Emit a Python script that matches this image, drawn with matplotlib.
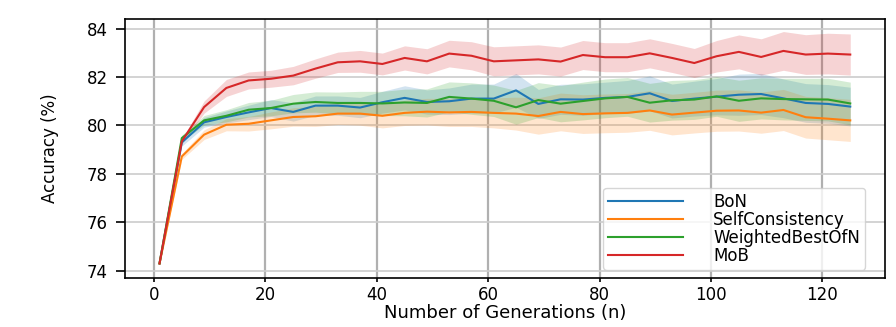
import matplotlib
matplotlib.use("Agg")
import matplotlib.pyplot as plt
import numpy as np

# number of generations (x axis)
n_gen = list(range(1, 126, 4))

bon = [74.3, 79.3, 80.13, 80.35, 80.54, 80.72, 80.56, 80.82, 80.82, 80.74, 80.96, 81.14,
       80.97, 81.0, 81.11, 81.11, 81.45, 80.89, 81.08, 81.07, 81.14, 81.18, 81.33, 81.01,
       81.11, 81.19, 81.27, 81.30, 81.12, 80.93, 80.89, 80.78]
bon_err = [0.02, 0.15, 0.2, 0.25, 0.3, 0.35, 0.38, 0.4, 0.4, 0.42, 0.45, 0.5,
           0.5, 0.55, 0.6, 0.6, 0.7, 0.6, 0.62, 0.65, 0.65, 0.68, 0.72, 0.7,
           0.72, 0.75, 0.85, 0.85, 0.8, 0.8, 0.8, 0.8]

self_cons = [74.3, 78.72, 79.62, 80.03, 80.07, 80.21, 80.35, 80.38, 80.49, 80.49, 80.40, 80.52,
             80.57, 80.54, 80.56, 80.52, 80.49, 80.39, 80.56, 80.47, 80.50, 80.52, 80.62, 80.45,
             80.53, 80.61, 80.62, 80.53, 80.64, 80.34, 80.28, 80.21]
self_cons_err = [0.02, 0.12, 0.2, 0.25, 0.3, 0.35, 0.38, 0.42, 0.45, 0.48, 0.5, 0.52,
                 0.55, 0.58, 0.6, 0.62, 0.68, 0.75, 0.78, 0.8, 0.8, 0.8, 0.82, 0.84,
                 0.84, 0.85, 0.85, 0.85, 0.85, 0.86, 0.87, 0.87]

weighted = [74.3, 79.48, 80.21, 80.40, 80.65, 80.72, 80.90, 80.97, 80.93, 80.93, 80.91, 80.95,
            80.93, 81.18, 81.11, 81.02, 80.75, 81.05, 80.90, 81.01, 81.12, 81.18, 80.94, 81.04,
            81.07, 81.20, 81.02, 81.12, 81.09, 81.08, 81.07, 80.91]
weighted_err = [0.02, 0.12, 0.2, 0.25, 0.3, 0.32, 0.38, 0.42, 0.45, 0.48, 0.5, 0.55,
                0.58, 0.62, 0.65, 0.65, 0.7, 0.72, 0.75, 0.78, 0.8, 0.8, 0.8, 0.82,
                0.82, 0.82, 0.85, 0.85, 0.86, 0.87, 0.88, 0.88]

mob = [74.3, 79.34, 80.76, 81.55, 81.86, 81.93, 82.06, 82.35, 82.61, 82.65, 82.54, 82.79,
       82.65, 82.97, 82.88, 82.65, 82.69, 82.73, 82.64, 82.91, 82.82, 82.82, 82.98, 82.79,
       82.58, 82.86, 83.04, 82.83, 83.08, 82.93, 82.97, 82.93]
mob_err = [0.02, 0.1, 0.25, 0.35, 0.35, 0.35, 0.38, 0.4, 0.42, 0.45, 0.45, 0.5,
           0.52, 0.55, 0.58, 0.6, 0.6, 0.6, 0.6, 0.6, 0.6, 0.6, 0.6, 0.6,
           0.6, 0.65, 0.7, 0.75, 0.8, 0.82, 0.84, 0.85]

series = [("BoN", bon, bon_err, "tab:blue"),
          ("SelfConsistency", self_cons, self_cons_err, "tab:orange"),
          ("WeightedBestOfN", weighted, weighted_err, "tab:green"),
          ("MoB", mob, mob_err, "tab:red")]

fig = plt.figure(figsize=(8.96, 3.27), dpi=100)
ax = fig.add_axes([0.1395, 0.15, 0.848, 0.792])

x = np.array(n_gen)
for label, vals, err, col in series:
    v = np.array(vals)
    e = np.array(err)
    ax.plot(x, v, color=col, lw=1.5, label=label)
    ax.fill_between(x, v - e, v + e, color=col, alpha=0.2, lw=0)

ax.set_ylim(73.7, 84.4)
ax.set_xticks([0, 20, 40, 60, 80, 100, 120])
ax.set_yticks([74, 76, 78, 80, 82, 84])
ax.xaxis.grid(True, color="#b0b0b0", lw=1.6)
ax.yaxis.grid(True, color="#cccccc", lw=1.2)
ax.set_axisbelow(True)
for s in ax.spines.values():
    s.set_linewidth(1.2)
ax.tick_params(axis="x", labelsize=12, width=1.2, length=3, pad=3)
ax.tick_params(axis="y", labelsize=12, width=1.2, length=6.5, pad=6)

ax.set_xlabel("Number of Generations (n)", fontsize=13, labelpad=0)
ax.set_ylabel("Accuracy (%)", fontsize=12, labelpad=20)

ax.legend(loc="lower right", fontsize=12, labelspacing=0.0, handlelength=4.5,
          handletextpad=1.8, borderpad=0.3, framealpha=0.8,
          bbox_to_anchor=(0.985, 0.0))

fig.savefig("out.png", dpi=100)
